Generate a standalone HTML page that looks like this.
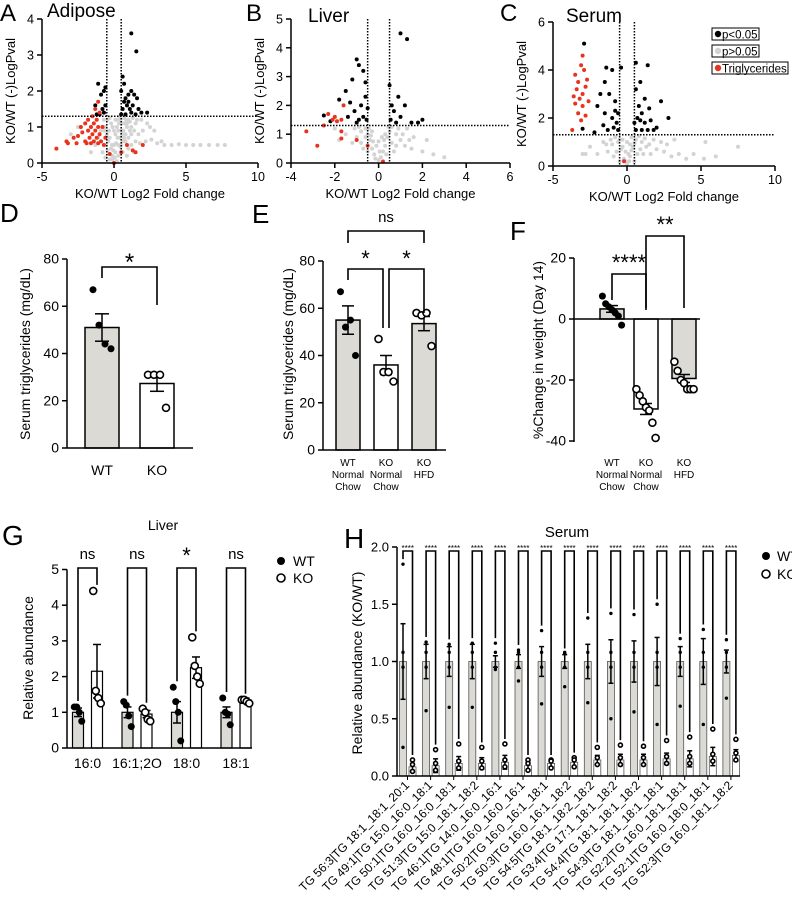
<!DOCTYPE html>
<html><head><meta charset="utf-8"><style>
html,body{margin:0;padding:0;background:#fff;}
svg{display:block;font-family:"Liberation Sans",Arial,sans-serif;}
</style></head><body>
<svg id="fig" width="792" height="899" viewBox="0 0 792 899"></svg>
<script>
// ---------- DATA ----------
const adiposeGray=[[-0.3,0.1],[0.2,0.05],[-0.1,0.2],[0.1,0.3],[-0.2,0.4],[0.3,0.5],[-0.4,0.6],[0.4,0.7],[-0.5,0.8],[0.5,0.9],[-0.6,1.0],[0.6,1.1],[-0.7,1.2],[0.7,1.25],[0.9,1.0],[1.1,0.9],[-0.9,0.9],[-1.1,0.7],[0.8,0.6],[1.2,0.5],[-0.8,0.3],[0.6,0.3],[1.0,0.4],[-1.3,0.5],[1.5,0.6],[1.8,0.55],[2.2,0.6],[2.6,0.65],[3.0,0.55],[3.5,0.5],[4.0,0.5],[4.5,0.52],[5.0,0.5],[5.5,0.5],[6.0,0.5],[6.6,0.5],[7.2,0.5],[7.7,0.5],[2.0,0.9],[2.5,1.0],[1.6,1.2],[0.3,0.9],[-0.3,0.7],[0.0,0.5],[0.2,1.2],[-0.2,1.1],[0.4,1.3],[1.3,1.25],[-2.5,1.0],[-3.0,0.8],[0.9,0.2],[-0.6,0.15],[1.4,0.3],[-1.6,0.3],[0.1,0.8],[-0.1,1.0],[0.5,0.5],[0.3,0.2],[1.0,1.2],[1.2,1.0],[0.8,0.8],[-0.1,0.1],[0.05,0.15],[-0.15,0.5],[0.25,0.7],[-0.35,0.9],[0.35,1.1],[-0.45,1.2],[0.45,1.2],[0.55,0.8],[-0.55,0.5],[0.65,0.9],[-0.65,0.9],[0.75,1.1],[-0.75,1.0],[0.85,1.2],[1.0,0.7],[1.2,0.8],[1.4,0.9],[1.5,1.1],[1.7,0.8],[0.15,0.55],[-0.05,0.35],[0.45,0.45],[-0.45,0.35],[0.7,0.7],[0.0,0.9],[0.2,1.0],[0.1,1.2],[-0.3,1.25],[0.6,0.6],[0.9,1.1],[1.1,1.15],[2.8,0.9],[3.3,0.6],[1.9,1.2],[2.3,1.1]];
const adiposeRed=[[-4,0.4],[-3.3,0.6],[-3.2,0.55],[-2.8,0.7],[-2.5,0.75],[-2.3,1.0],[-2.2,0.85],[-2.0,0.6],[-2.0,1.1],[-1.9,0.55],[-1.8,0.9],[-1.8,1.2],[-1.7,0.7],[-1.6,1.0],[-1.6,0.55],[-1.5,1.3],[-1.5,0.8],[-1.4,0.6],[-1.4,1.1],[-1.3,0.9],[-1.2,0.7],[-1.2,1.2],[-1.1,0.55],[-1.1,1.0],[-1.0,0.8],[-1.0,1.4],[-0.9,0.6],[-0.8,1.0],[-0.7,0.5],[-1.1,1.7],[-1.3,1.5],[-0.6,0.7],[0.0,0.0],[-0.3,0.25],[0.5,0.3],[0.9,0.5],[1.3,0.35],[1.5,0.3],[2.0,0.5],[-2.6,0.55]];
const adiposeBlack=[[-1.1,2.2],[-0.9,1.9],[-0.7,2.0],[-0.6,2.1],[-1.3,1.6],[-0.8,1.5],[-0.6,1.6],[-1.0,1.35],[-0.7,1.4],[-1.2,1.35],[0.6,2.4],[0.7,2.2],[0.5,2.0],[0.8,1.8],[1.0,1.9],[1.2,2.0],[1.4,1.9],[1.6,1.8],[0.6,1.5],[0.9,1.6],[1.1,1.5],[1.3,1.6],[1.7,1.5],[1.9,1.4],[0.5,1.35],[0.8,1.35],[1.2,1.4],[1.5,1.35],[2.3,1.4],[1.2,3.6],[1.55,3.1],[0.7,1.7],[1.0,1.7]];
const liverGray=[[0,0.1],[0.1,0.2],[-0.2,0.3],[0.2,0.4],[-0.3,0.5],[0.3,0.6],[-0.4,0.8],[0.4,0.9],[-0.5,1.0],[0.5,1.1],[-0.6,1.2],[0.6,1.25],[-0.8,1.1],[0.8,1.0],[-1.0,0.9],[1.0,0.8],[-1.2,0.7],[1.2,0.6],[1.5,0.5],[2.0,0.4],[-1.5,1.0],[-1.8,0.8],[1.6,0.9],[2.5,0.3],[3.0,0.2],[-0.1,0.6],[0.15,0.9],[-0.7,0.5],[0.7,0.4],[-2.0,1.2],[1.3,1.2],[2.2,0.8],[-0.3,1.1],[0.3,1.0],[-0.9,1.25],[0.9,1.2],[-0.15,0.15],[0.05,0.4],[-0.25,0.75],[0.25,0.8],[-0.45,1.2],[0.45,1.25],[-0.6,0.9],[0.6,0.7],[-0.8,0.7],[0.8,0.6],[-0.5,0.4],[0.35,0.3],[1.1,1.0],[-1.1,1.2],[1.4,0.8],[0.0,0.75],[-0.35,0.95]];
const liverRed=[[-3.3,1.1],[-2.8,0.6],[-2.5,1.3],[-2.3,1.7],[-2.1,1.5],[-2.0,1.6],[-1.9,1.45],[-1.7,1.5],[-1.6,2.0],[-1.7,1.1],[-1.7,0.85],[-1.0,0.8],[-0.5,0.6],[0.2,0.05]];
const liverBlack=[[-2.5,1.65],[-2.2,1.45],[-1.8,2.2],[-1.5,2.5],[-1.2,2.9],[-1.0,3.6],[-0.9,3.4],[-0.7,3.2],[-1.3,2.1],[-1.1,1.8],[-0.9,1.5],[-0.8,2.0],[-0.6,2.3],[-0.5,1.9],[-0.55,1.5],[-1.0,1.4],[-0.7,1.6],[-1.4,1.6],[-0.6,2.8],[0.5,2.7],[0.6,2.0],[0.55,1.5],[0.7,1.8],[0.8,1.4],[1.0,1.6],[1.2,2.0],[1.0,4.5],[1.3,4.3],[1.5,1.4],[2.0,1.5],[0.9,2.3],[1.8,1.4]];
const serumGray=[[0,0.1],[-0.2,0.3],[0.2,0.4],[-0.4,0.7],[0.4,0.8],[-0.6,1.0],[0.6,1.1],[-0.8,1.2],[0.8,1.25],[1.0,1.0],[-1.0,0.9],[1.3,0.8],[-1.3,0.6],[1.6,0.5],[2.0,0.7],[2.5,0.6],[3.0,0.4],[3.5,0.5],[4.0,0.3],[4.5,0.5],[5.2,0.3],[6.0,0.4],[7.5,0.8],[-2.0,0.5],[-1.6,1.0],[1.8,1.1],[0.2,0.9],[-0.1,0.6],[0.5,0.2],[-0.5,0.2],[2.3,1.0],[-2.5,0.8],[3.2,1.1],[-3.0,0.5],[-2.8,0.5],[5.3,1.0],[0.3,1.2],[-0.3,1.1],[-0.1,0.2],[0.1,0.5],[-0.3,0.8],[0.3,0.65],[-0.5,1.1],[0.5,0.95],[-0.7,0.6],[0.7,0.5],[-0.9,0.4],[0.9,0.7],[1.1,0.5],[-1.1,1.1],[1.2,1.15],[1.5,0.9],[-1.4,0.9],[0.0,1.0],[0.15,0.2],[2.7,0.9]];
const serumRed=[[-3.5,3.8],[-3.3,3.5],[-3.1,4.2],[-3.0,3.0],[-2.8,3.3],[-3.2,2.8],[-3.4,3.2],[-2.9,4.0],[-3.0,2.5],[-3.3,2.2],[-2.6,2.7],[-2.7,3.6],[-3.6,2.9],[-3.1,1.9],[-2.8,2.1],[-3.0,4.6],[-3.5,2.6],[-3.7,1.5],[-0.2,0.2]];
const serumBlack=[[-1.0,4.0],[-1.5,3.5],[-2.0,2.5],[-1.8,3.0],[-1.2,3.0],[-0.8,2.7],[-1.5,2.2],[-0.6,2.2],[-1.0,2.0],[-1.6,1.7],[-0.9,1.6],[-0.6,1.5],[-1.3,1.5],[-2.2,1.4],[0.6,3.2],[0.9,3.5],[1.2,2.8],[0.8,2.5],[1.0,2.2],[1.5,2.4],[0.7,2.0],[1.2,1.8],[1.6,1.9],[2.0,1.6],[0.6,1.5],[1.0,1.5],[1.4,1.5],[1.8,1.5],[2.3,2.7],[2.8,2.0],[0.5,1.8],[-0.7,1.8],[-2.9,5.1],[-0.4,4.1],[1.4,4.2],[0.6,4.3],[-1.4,4.1],[-0.8,2.3],[0.9,1.9],[-3.0,1.55]];

const dCats=["WT","KO"], dMeans=[51,27.3], dSem=[5.8,3.3], dPts=[[67,52,44,42],[31,31,31,17]];
const eMeans=[55,36,53.5], eSem=[6,4,3], ePts=[[67,52,55,40],[47,33,33,29],[58,57,58,44]];
const fMeans=[3.3,-29.5,-19.5], fSem=[1.1,1.8,1.3], fPts=[[7.5,5,4,3,2,1,-2],[-23,-25,-27,-29,-30,-34,-39],[-14,-17,-20,-21,-23,-23,-23]];
const gCats=["16:0","16:1;2O","18:0","18:1"], gWT=[1.0,1.0,1.0,1.0], gKO=[2.15,0.95,2.25,1.35], gWTsem=[0.12,0.15,0.3,0.15], gKOsem=[0.75,0.1,0.3,0.05];
const gWTpts=[[1.15,1.15,1.0,0.75],[1.3,1.2,0.9,0.6],[1.7,1.3,1.0,0.2],[1.4,1.0,0.95,0.65]], gKOpts=[[4.4,1.6,1.4,1.25],[1.1,1.0,0.8,0.75],[3.1,2.3,2.0,1.8],[1.35,1.35,1.3,1.25]];
const gSig=["ns","ns","*","ns"];
const hCats=["TG 56:3|TG 18:1_18:1_20:1","TG 49:1|TG 15:0_16:0_18:1","TG 50:1|TG 16:0_16:0_18:1","TG 51:3|TG 15:0_18:1_18:2","TG 46:1|TG 14:0_16:0_16:1","TG 48:1|TG 16:0_16:0_16:1","TG 50:2|TG 16:0_16:1_18:1","TG 50:3|TG 16:0_16:1_18:2","TG 54:5|TG 18:1_18:2_18:2","TG 53:4|TG 17:1_18:1_18:2","TG 54:4|TG 18:1_18:1_18:2","TG 54:3|TG 18:1_18:1_18:1","TG 52:2|TG 16:0_18:1_18:1","TG 52:1|TG 16:0_18:0_18:1","TG 52:3|TG 16:0_18:1_18:2"];
const hWT=[1,1,1,1,1,1,1,1,1,1,1,1,1,1,1], hWTsem=[0.33,0.15,0.13,0.15,0.05,0.06,0.13,0.06,0.15,0.19,0.18,0.21,0.13,0.2,0.1];
const hKO=[0.08,0.09,0.11,0.11,0.12,0.09,0.11,0.12,0.14,0.14,0.14,0.15,0.15,0.17,0.18], hKOsem=[0.03,0.06,0.06,0.05,0.06,0.04,0.03,0.04,0.04,0.05,0.05,0.05,0.07,0.08,0.05];
const hWTtop=[1.85,1.17,1.15,1.16,1.16,1.1,1.27,1.07,1.38,1.42,1.41,1.5,1.2,1.28,1.19], hWTlow=[0.25,0.57,0.6,0.6,0.93,0.83,0.63,0.78,0.64,0.5,0.56,0.45,0.61,0.45,0.68];
const hKOtop=[0.14,0.23,0.28,0.25,0.28,0.14,0.14,0.16,0.25,0.27,0.26,0.31,0.34,0.41,0.32];

// ---------- HELPERS ----------
const svg=document.getElementById('fig');
const NS="http://www.w3.org/2000/svg";
function mk(tag,attrs,name,inter){
  const el=document.createElementNS(NS,tag);
  for(const k in attrs) el.setAttribute(k,attrs[k]);
  
  
  svg.appendChild(el); return el;
}
function txt(x,y,s,size,name,extra){
  const a=Object.assign({x:x,y:y,'font-size':size,fill:'#000'},extra||{});
  const t=mk('text',a,name); t.textContent=s; return t;
}
function lin(x1,y1,x2,y2,name,w,dash){
  const a={x1:x1,y1:y1,x2:x2,y2:y2,stroke:'#000','stroke-width':w||1.5};
  if(dash) a['stroke-dasharray']=dash;
  return mk('line',a,name);
}
function scale(d0,d1,p0,p1){return v=>p0+(v-d0)*(p1-p0)/(d1-d0);}
function yAxis(x,sy,ticks,y0,y1,name,fs,fmt){
  lin(x,y0,x,y1,name+'-line');
  ticks.forEach(t=>{const y=sy(t);lin(x-5,y,x,y,name+'-tick');
    txt(x-8,y+4.5,fmt?t.toFixed(1):String(t),fs||13,name+'-label',{'text-anchor':'end'});});
}
function vertTitle(x,y,s,size,name){txt(x,y,s,size,name,{transform:`rotate(-90 ${x} ${y})`,'text-anchor':'middle'});}

// ---------- VOLCANO ----------
function volcano(o){
  const sx=scale(o.xmin,o.xmax,o.x0,o.x1), sy=scale(0,o.ymax,o.yb,o.yt);
  [[o.gray,'#d3d3d3','point-ns'],[o.black,'#000','point-significant'],[o.red,'#e8331e','point-triglyceride']].forEach(([arr,c,n])=>{
    arr.forEach(p=>mk('circle',{cx:sx(p[0]),cy:sy(p[1]),r:2,fill:c},o.id+'-'+n));
  });
  lin(sx(o.xmin),sy(1.3),sx(o.xmax),sy(1.3),o.id+'-threshold-p',1.5,'1.5 1.5');
  lin(sx(-0.5),sy(o.ymax),sx(-0.5),o.yb,o.id+'-threshold-fc-neg',1.5,'1.5 1.5');
  lin(sx(0.5),sy(o.ymax),sx(0.5),o.yb,o.id+'-threshold-fc-pos',1.5,'1.5 1.5');
  yAxis(o.x0,sy,o.yticks,o.yb,o.yt,o.id+'-y-axis',12.5);
  lin(o.x0,o.yb,o.x1,o.yb,o.id+'-x-axis-line');
  o.xticks.forEach(t=>{const x=sx(t);lin(x,o.yb,x,o.yb+5,o.id+'-x-tick');txt(x,o.yb+18,String(t),12.5,o.id+'-x-label',{'text-anchor':'middle'});});
  txt((o.x0+o.x1)/2,o.yb+35,'KO/WT Log2 Fold change',13,o.id+'-x-axis-title',{'text-anchor':'middle'});
  vertTitle(o.x0-27,(o.yb+o.yt)/2,'KO/WT (-)LogPval',13,o.id+'-y-axis-title');
}
volcano({id:'adipose',x0:42,x1:258,xmin:-5,xmax:10,yb:163,yt:19,ymax:4,yticks:[0,1,2,3,4],xticks:[-5,0,5,10],gray:adiposeGray,red:adiposeRed,black:adiposeBlack});
volcano({id:'liver',x0:291,x1:510,xmin:-4,xmax:6,yb:163,yt:19,ymax:5,yticks:[0,1,2,3,4,5],xticks:[-4,-2,0,2,4,6],gray:liverGray,red:liverRed,black:liverBlack});
volcano({id:'serum',x0:553,x1:775,xmin:-5,xmax:10,yb:166,yt:22,ymax:6,yticks:[0,2,4,6],xticks:[-5,0,5,10],gray:serumGray,red:serumRed,black:serumBlack});
txt(0,21,'A',24,'panel-label-a');txt(47,17,'Adipose',19,'adipose-title');
txt(246,21,'B',24,'panel-label-b');txt(308,22,'Liver',19,'liver-title');
txt(500,21,'C',24,'panel-label-c');txt(566,22,'Serum',19,'serum-title');
[['p<0.05','#000',28,759],['p>0.05','#d3d3d3',45,759],['Triglycerides','#e8331e',62,788]].forEach(([s,c,y,xr])=>{
  mk('rect',{x:712,y:y,width:xr-712,height:12,fill:'#fff',stroke:'#000','stroke-width':1},'legend-box');
  mk('circle',{cx:718,cy:y+6,r:3.2,fill:c},'legend-marker');
  txt(722,y+10.5,s,11.5,'legend-entry');
});

// ---------- BAR helpers ----------
function errbar(x,ym,yt,yb,name,w){lin(x,yt,x,yb,name);lin(x-w,yt,x+w,yt,name);lin(x-w,yb,x+w,yb,name);}
function dots(xc,vals,sy,filled,name,spread,r){
  vals.forEach((v,i)=>{const off=(vals.length>1)?(i-(vals.length-1)/2)*spread:0;
    mk('circle',{cx:xc+off,cy:sy(v),r:r||3.5,fill:filled?'#000':'#fff',stroke:'#000','stroke-width':filled?0:1.6},name);});
}
function bracket(x1,x2,top,b1,b2,label,name,ls,ly){
  mk('polyline',{points:`${x1},${b1} ${x1},${top} ${x2},${top} ${x2},${b2}`,fill:'none',stroke:'#000','stroke-width':1.6},name);
  txt((x1+x2)/2,ly,label,ls,name+'-label',{'text-anchor':'middle'});
}

// ---------- D ----------
(function(){
  const sy=scale(0,80,448,259), xs=[102,157], bw=34;
  dMeans.forEach((m,i)=>{mk('rect',{x:xs[i]-bw/2,y:sy(m),width:bw,height:448-sy(m),fill:i==0?'#dcdad5':'#fff',stroke:'#000','stroke-width':1.5},'bar-'+dCats[i].toLowerCase());
    errbar(xs[i],m,sy(m+dSem[i]),sy(m-dSem[i]),'error-bar',7);
    dots(xs[i],dPts[i],sy,i==0,'data-point-'+dCats[i].toLowerCase(),6);
    txt(xs[i],475,dCats[i],14,'x-label',{'text-anchor':'middle'});});
  yAxis(67,sy,[0,20,40,60,80],448,259,'d-y-axis',14);
  lin(67,448,193,448,'d-x-axis');
  bracket(102,157,267,278,305,'*','d-sig-bracket',24,270);
  vertTitle(30,354,'Serum triglycerides (mg/dL)',14,'d-y-axis-title');
  txt(0,222,'D',26,'panel-label-d');
})();

// ---------- E ----------
(function(){
  const sy=scale(0,80,450,261), xs=[348,386,424], bw=24;
  const labs=[["WT","Normal","Chow"],["KO","Normal","Chow"],["KO","HFD",""]];
  eMeans.forEach((m,i)=>{mk('rect',{x:xs[i]-bw/2,y:sy(m),width:bw,height:450-sy(m),fill:i==1?'#fff':'#dcdad5',stroke:'#000','stroke-width':1.5},'bar-e-'+i);
    errbar(xs[i],m,sy(m+eSem[i]),sy(m-eSem[i]),'error-bar',6);
    dots(xs[i],ePts[i],sy,i==0,'data-point-e',5);
    labs[i].forEach((s,k)=>txt(xs[i],466+k*12,s,10,'x-label',{'text-anchor':'middle'}));});
  yAxis(323,sy,[0,20,40,60,80],450,261,'e-y-axis',14);
  lin(323,450,446,450,'e-x-axis');
  bracket(348,424,231,243,243,'ns','e-ns-bracket',15,222);
  bracket(348,383,269,280,328,'*','e-sig-bracket-1',22,266);
  bracket(389,424,269,328,313,'*','e-sig-bracket-2',22,266);
  vertTitle(293,354,'Serum triglycerides (mg/dL)',14,'e-y-axis-title');
  txt(252,223,'E',26,'panel-label-e');
})();

// ---------- F ----------
(function(){
  const sy=scale(0,20,319,258), xs=[612,646,684], bw=24;
  const labs=[["WT","Normal","Chow"],["KO","Normal","Chow"],["KO","HFD",""]];
  fMeans.forEach((m,i)=>{const y=Math.min(sy(m),319),h=Math.abs(sy(m)-319);
    mk('rect',{x:xs[i]-bw/2,y:y,width:bw,height:h,fill:i==1?'#fff':'#dcdad5',stroke:'#000','stroke-width':1.5},'bar-f-'+i);
    errbar(xs[i],m,sy(m+fSem[i]),sy(m-fSem[i]),'error-bar',6);
    dots(xs[i],fPts[i],sy,i==0,'data-point-f',3.2);
    labs[i].forEach((s,k)=>txt(xs[i],466+k*12,s,10,'x-label',{'text-anchor':'middle'}));});
  yAxis(574,sy,[-40,-20,0,20],442,258,'f-y-axis',14);
  lin(574,319,700,319,'f-x-axis');
  bracket(612,646,274,300,310,'****','f-sig-bracket-1',22,270);
  bracket(646,684,236,308,308,'**','f-sig-bracket-2',22,232);
  vertTitle(543,350,'%Change in weight (Day 14)',14,'f-y-axis-title');
  txt(510,240,'F',26,'panel-label-f');
})();

// ---------- G ----------
(function(){
  const sy=scale(0,5,748,569.5);
  gCats.forEach((c,i)=>{const xw=78+i*49.5,xk=xw+19,bw=11;
    mk('rect',{x:xw-bw/2,y:sy(gWT[i]),width:bw,height:748-sy(gWT[i]),fill:'#dcdad5',stroke:'#000','stroke-width':1.2},'bar-g-wt');
    mk('rect',{x:xk-bw/2,y:sy(gKO[i]),width:bw,height:748-sy(gKO[i]),fill:'#fff',stroke:'#000','stroke-width':1.2},'bar-g-ko');
    errbar(xw,0,sy(gWT[i]+gWTsem[i]),sy(gWT[i]-gWTsem[i]),'error-bar',4);
    errbar(xk,0,sy(gKO[i]+gKOsem[i]),sy(gKO[i]-gKOsem[i]),'error-bar',4);
    dots(xw,gWTpts[i],sy,true,'data-point-g-wt',2.5);
    dots(xk,gKOpts[i],sy,false,'data-point-g-ko',2.5);
    const tw=Math.max(...gWTpts[i]),tk=Math.max(...gKOpts[i]);
    bracket(xw,xk,568,sy(tw)-6,sy(tk)-6,gSig[i],'g-sig-bracket',gSig[i]=='*'?22:15,gSig[i]=='*'?563:559);
    txt((xw+xk)/2,768,c,14,'g-x-label',{'text-anchor':'middle'});
  });
  yAxis(67,sy,[0,1,2,3,4,5],748,569.5,'g-y-axis',14);
  lin(67,748,252,748,'g-x-axis');
  txt(163,530,'Liver',14,'g-title',{'text-anchor':'middle'});
  vertTitle(33,658,'Relative abundance',14,'g-y-axis-title');
  txt(2,545,'G',28,'panel-label-g');
  mk('circle',{cx:281,cy:561,r:4,fill:'#000'},'g-legend-wt-marker');txt(293,566,'WT',14,'g-legend-wt');
  mk('circle',{cx:281,cy:578,r:4,fill:'#fff',stroke:'#000','stroke-width':1.6},'g-legend-ko-marker');txt(293,583,'KO',14,'g-legend-ko');
})();

// ---------- H ----------
(function(){
  const sy=scale(0,2,776,547);
  hCats.forEach((c,i)=>{const xw=403+i*23.1,xk=xw+9.5,bw=7;
    mk('rect',{x:xw-bw/2,y:sy(hWT[i]),width:bw,height:776-sy(hWT[i]),fill:'#dcdad5',stroke:'#555','stroke-width':0.8},'bar-h-wt');
    mk('rect',{x:xk-bw/2,y:sy(hKO[i]),width:bw,height:776-sy(hKO[i]),fill:'#fff',stroke:'#555','stroke-width':0.8},'bar-h-ko');
    errbar(xw,0,sy(hWT[i]+hWTsem[i]),sy(hWT[i]-hWTsem[i]),'error-bar',2.5);
    errbar(xk,0,sy(hKO[i]+hKOsem[i]),sy(hKO[i]-hKOsem[i]),'error-bar',2.5);
    dots(xw,[hWTtop[i],hWT[i]+0.08,hWT[i]-0.05,hWTlow[i]],sy,true,'data-point-h-wt',0,1.7);
    dots(xk,[hKOtop[i],hKO[i]+0.02,hKO[i]-0.04],sy,false,'data-point-h-ko',0,2);
    bracket(xw,xk,551,sy(hWTtop[i])-5,sy(hKOtop[i])-5,'****','h-sig-bracket',8,551);
    lin(xw+4.5,776,xw+4.5,780,'h-x-tick',1);
    const tx=xw+7,ty=786;
    txt(tx,ty,c,12,'h-x-label',{'text-anchor':'end',transform:`rotate(-45 ${tx} ${ty})`});
  });
  yAxis(397,sy,[0,0.5,1,1.5,2],776,547,'h-y-axis',13,true);
  lin(397,776,740,776,'h-x-axis');
  txt(567,537,'Serum',15,'h-title',{'text-anchor':'middle'});
  vertTitle(362,663,'Relative abundance (KO/WT)',14,'h-y-axis-title');
  txt(344,548,'H',28,'panel-label-h');
  mk('circle',{cx:766,cy:556,r:4,fill:'#000'},'h-legend-wt-marker');txt(777,561,'WT',14,'h-legend-wt');
  mk('circle',{cx:766,cy:574,r:4,fill:'#fff',stroke:'#000','stroke-width':1.6},'h-legend-ko-marker');txt(777,579,'KO',14,'h-legend-ko');
})();
</script>
</body></html>
